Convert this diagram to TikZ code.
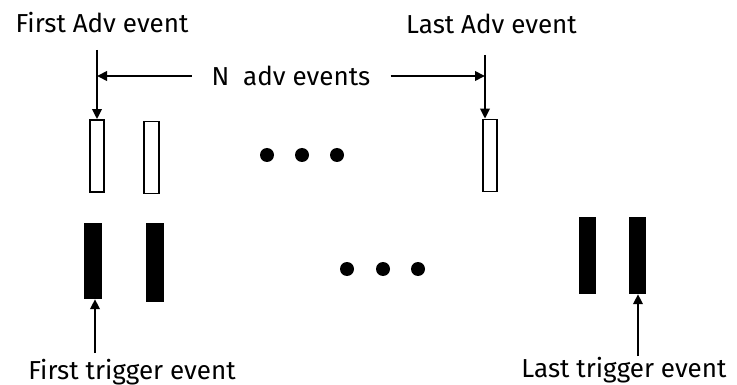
\documentclass[tikz,border=0pt]{standalone}
\usepackage{fontspec}
\setmainfont{Fira Sans}
\usetikzlibrary{arrows.meta}
\begin{document}
\begin{tikzpicture}[x=1pt,y=-1pt,
  adv/.style={draw,line width=1.8pt,minimum width=14.5pt,minimum height=72pt,inner sep=0pt},
  trig/.style={fill,minimum width=18pt,minimum height=76pt,inner sep=0pt},
  dot/.style={circle,fill,minimum size=14pt,inner sep=0pt},
  lbl/.style={font=\fontsize{26}{31}\selectfont,inner sep=0pt},
  arr/.style={line width=2pt,-{Triangle[length=10pt,width=9.5pt]}}]
  \useasboundingbox (0,0) rectangle (737,385);

  \node[lbl,anchor=base] (firstadv) at (102,32.5) {First Adv event};
  \node[lbl,anchor=base] (lastadv) at (491.5,34) {Last Adv event};
  \node[lbl,inner xsep=20pt] (nadv) at (291,76) {N\ \ adv events};
  \node[lbl,anchor=base] (firsttrig) at (132,379.5) {First trigger event};
  \node[lbl,anchor=base] (lasttrig) at (624,377) {Last trigger event};

  \node[adv] (adv1) at (97,156) {};
  \node[adv] (adv2) at (151.5,157.5) {};
  \node[adv] (advN) at (490,155.5) {};

  \node[trig] (trig1) at (93,261) {};
  \node[trig,minimum height=79pt] (trig2) at (155,262.5) {};
  \node[trig,minimum width=17pt,minimum height=77pt] (trig3) at (587.5,255.5) {};
  \node[trig,minimum width=17pt,minimum height=77pt] (trig4) at (637.5,255.5) {};

  \node[dot] (d1) at (267,155) {};
  \node[dot] (d2) at (302,155) {};
  \node[dot] (d3) at (337,155) {};
  \node[dot] (d4) at (347,269) {};
  \node[dot] (d5) at (383,269) {};
  \node[dot] (d6) at (418,269) {};

  \coordinate (topL) at (97,50);
  \coordinate (topR) at (485,55);
  \coordinate (botL) at (95,353);
  \coordinate (botR) at (638,356);
  \draw[arr] (topL) -- (topL |- adv1.north);
  \draw[arr] (topR) -- (topR |- advN.north);
  \draw[arr] (nadv.west) -- (nadv.west -| topL);
  \draw[arr] (nadv.east) -- (nadv.east -| topR);
  \draw[arr] (botL) -- (botL |- trig1.south);
  \draw[arr] (botR) -- (botR |- trig4.south);
\end{tikzpicture}
\end{document}
